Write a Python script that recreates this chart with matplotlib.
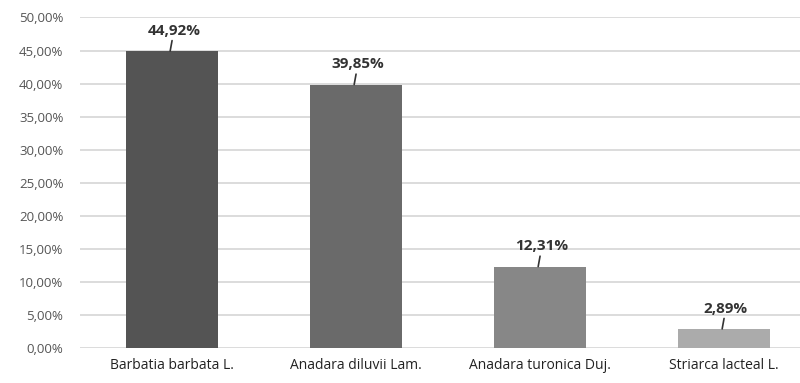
import matplotlib
matplotlib.use("Agg")
import matplotlib.pyplot as plt

species = ["Barbatia barbata L.", "Anadara diluvii Lam.", "Anadara turonica Duj.", "Striarca lacteal L."]
shares = [44.92, 39.85, 12.31, 2.89]
bar_colors = ["#545454", "#6a6a6a", "#878787", "#ababab"]
yticks = [0, 5, 10, 15, 20, 25, 30, 35, 40, 45, 50]

plt.rcParams['font.family'] = ['Open Sans', 'DejaVu Sans']

fig = plt.figure(figsize=(8.0, 3.83), dpi=100)
ax = fig.add_axes([0.1, 0.0914, 0.92, 0.863])

x = list(range(len(species)))
ax.bar(x, shares, width=0.5, color=bar_colors, zorder=2)

ax.set_xlim(-0.5, 3.5)
ax.set_ylim(0, 50)
ax.set_yticks(yticks)
ax.yaxis.set_major_formatter(plt.FuncFormatter(lambda v, p: ("%.2f%%" % v).replace(".", ",")))
ax.set_xticks(x)
ax.set_xticklabels(species)
ax.grid(axis="y", color="#d9d9d9", linewidth=1.3, zorder=0)
for s in ax.spines.values():
    s.set_visible(False)
ax.tick_params(axis="both", length=0, labelsize=9.5, colors="#555555", pad=12)
ax.tick_params(axis="x", colors="#222222", pad=7, labelsize=10)

# labels with short leader lines
for xi, v in zip(x, shares):
    ax.annotate(("%.2f%%" % v).replace(".", ","), xy=(xi - 0.01, v), xytext=(xi + 0.01, v + 2.0),
                ha="center", va="bottom", fontsize=11, fontweight="bold", color="#333333",
                arrowprops=dict(arrowstyle="-", color="#333333", lw=1.2,
                                shrinkA=0, shrinkB=0))

fig.savefig("out.png", dpi=100)
